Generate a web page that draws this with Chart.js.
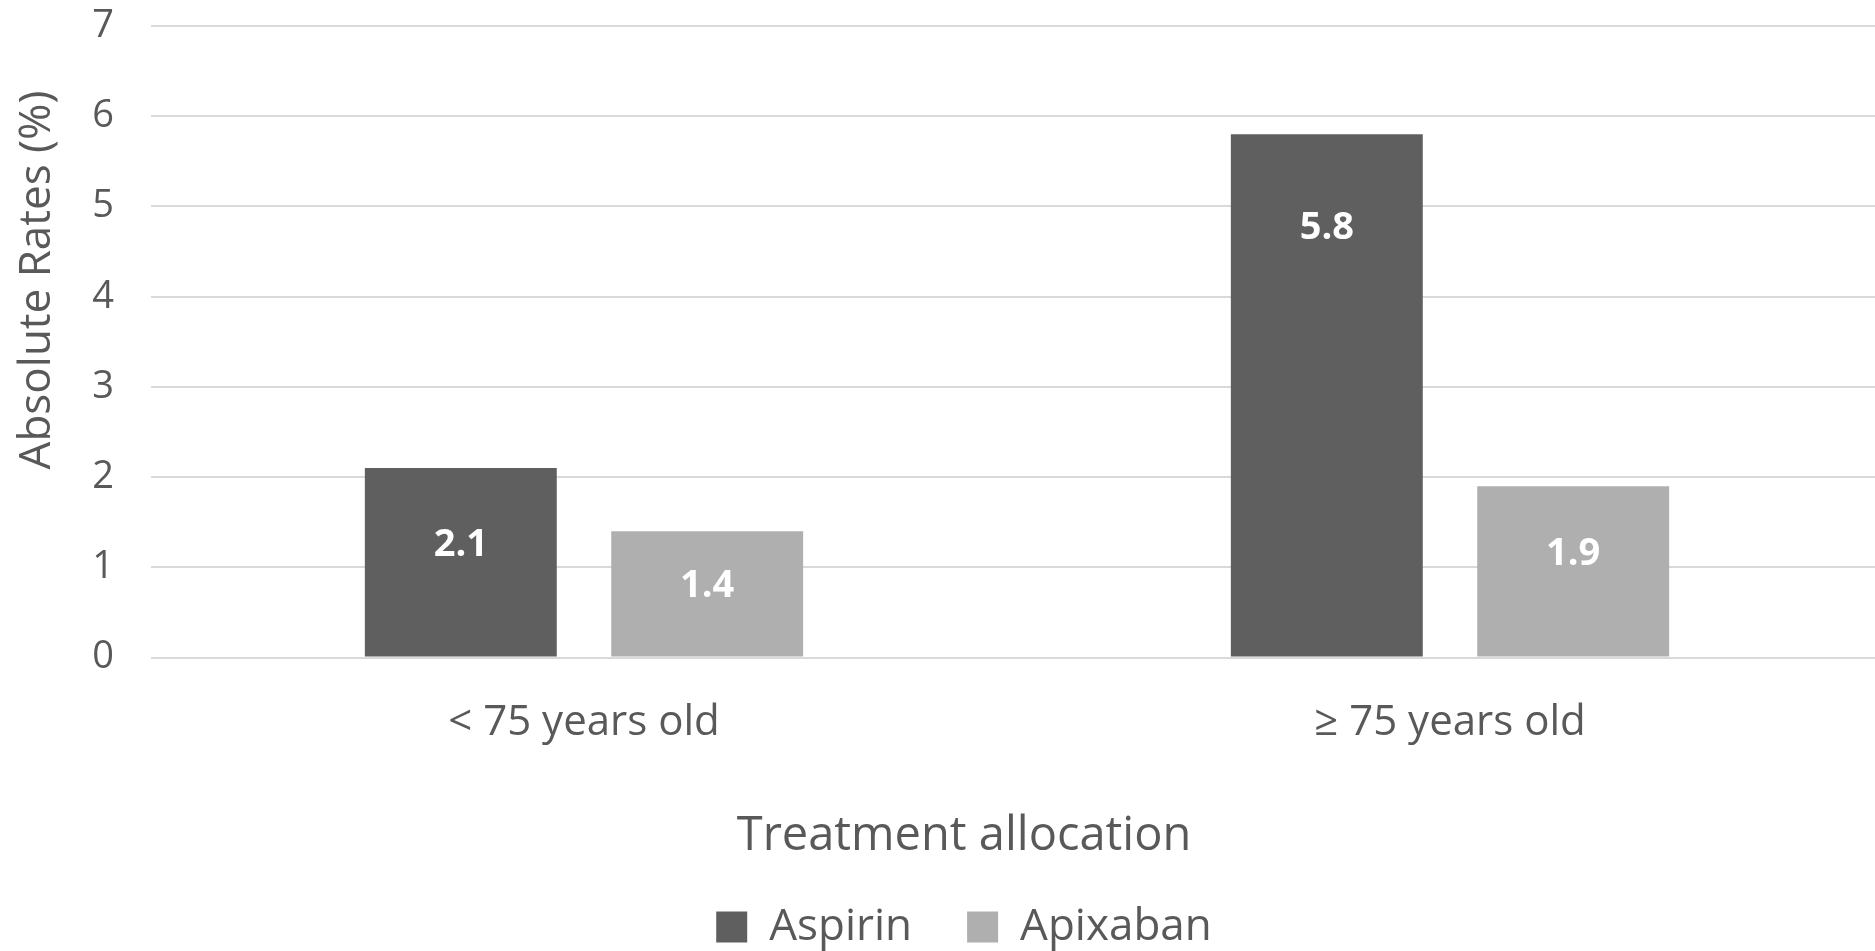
<!DOCTYPE html>
<html>
<head>
<meta charset="utf-8">
<title>Absolute rates by age group</title>
<script src="https://cdn.jsdelivr.net/npm/chart.js@4/dist/chart.umd.min.js"></script>
<style>
  html, body { margin: 0; padding: 0; background: #ffffff; overflow: hidden; }
  #wrap { position: relative; width: 1883px; height: 959px; }
</style>
</head>
<body>
<div id="wrap"><canvas id="chart"></canvas></div>
<script>
// Age groups on the x axis
const categories = ['< 75 years old', '\u2265 75 years old'];
// Treatment arms
const seriesNames = ['Aspirin', 'Apixaban'];
// Absolute rates (%) per age group
const aspirinRates = [2.1, 5.8];
const apixabanRates = [1.4, 1.9];
// Value axis range and step
const yMin = 0;
const yMax = 7;
const yStep = 1;

const textGrey = '#595959';
const fontFamily = '"Open Sans", "Noto Sans", sans-serif';

// Writes each bar's value inside the bar, in white
const barValueLabels = {
  id: 'barValueLabels',
  afterDatasetsDraw(chart, args, opts) {
    const ctx = chart.ctx;
    ctx.save();
    ctx.font = `bold ${opts.size}px ${fontFamily}`;
    ctx.fillStyle = opts.color;
    ctx.textAlign = 'center';
    ctx.textBaseline = 'middle';
    chart.data.datasets.forEach((ds, di) => {
      const meta = chart.getDatasetMeta(di);
      meta.data.forEach((bar, i) => {
        const share = opts.heightShare[di][i];
        const y = bar.base + (bar.y - bar.base) * share;
        ctx.fillText(ds.data[i].toFixed(1), bar.x, y);
      });
    });
    ctx.restore();
  }
};

// Rotated title beside the value axis
const valueAxisTitle = {
  id: 'valueAxisTitle',
  afterDraw(chart, args, opts) {
    const ctx = chart.ctx;
    ctx.save();
    ctx.font = `${opts.size}px ${fontFamily}`;
    ctx.fillStyle = opts.color;
    ctx.textAlign = 'center';
    ctx.textBaseline = 'middle';
    ctx.translate(opts.x, opts.y);
    ctx.rotate(-Math.PI / 2);
    ctx.fillText(opts.text, 0, 0);
    ctx.restore();
  }
};

new Chart(document.getElementById('chart'), {
  type: 'bar',
  data: {
    labels: categories,
    datasets: [
      {
        label: seriesNames[0],
        data: aspirinRates,
        backgroundColor: '#5f5f5f',
        borderWidth: 0,
        categoryPercentage: 0.569,
        barPercentage: 0.779
      },
      {
        label: seriesNames[1],
        data: apixabanRates,
        backgroundColor: '#afafaf',
        borderWidth: 0,
        categoryPercentage: 0.569,
        barPercentage: 0.779
      }
    ]
  },
  options: {
    responsive: true,
    maintainAspectRatio: false,
    animation: false,
    devicePixelRatio: 1,
    layout: { padding: { left: 45, top: 0, right: 0, bottom: 0 } },
    scales: {
      x: {
        grid: { display: false, drawTicks: false },
        border: { display: false },
        ticks: {
          color: textGrey,
          font: { family: fontFamily, size: 42 },
          padding: 40,
          maxRotation: 0
        },
        afterFit(scale) { scale.height = 90; }
      },
      y: {
        min: yMin,
        max: yMax,
        grid: { color: '#d9d9d9', lineWidth: 2, drawTicks: false },
        border: { display: false },
        ticks: {
          stepSize: yStep,
          color: textGrey,
          font: { family: fontFamily, size: 38 },
          padding: 37
        },
        afterFit(scale) {
          scale.width = 106;
          scale.paddingTop = 26;
          scale.paddingBottom = 0;
        }
      }
    },
    plugins: {
      tooltip: { enabled: false },
      title: {
        display: true,
        text: 'Treatment allocation',
        position: 'bottom',
        weight: 500,
        color: textGrey,
        font: { family: fontFamily, size: 47, weight: 'normal' },
        padding: { top: 61, bottom: -15 }
      },
      legend: {
        position: 'bottom',
        labels: {
          boxWidth: 31,
          boxHeight: 31,
          padding: 55,
          color: textGrey,
          font: { family: fontFamily, size: 44 }
        }
      },
      barValueLabels: {
        size: 38,
        color: '#ffffff',
        heightShare: [[0.59, 0.82], [0.56, 0.6]]
      },
      valueAxisTitle: {
        text: 'Absolute Rates (%)',
        size: 44,
        color: textGrey,
        x: 37,
        y: 280
      }
    }
  },
  plugins: [barValueLabels, valueAxisTitle]
});
</script>
</body>
</html>
